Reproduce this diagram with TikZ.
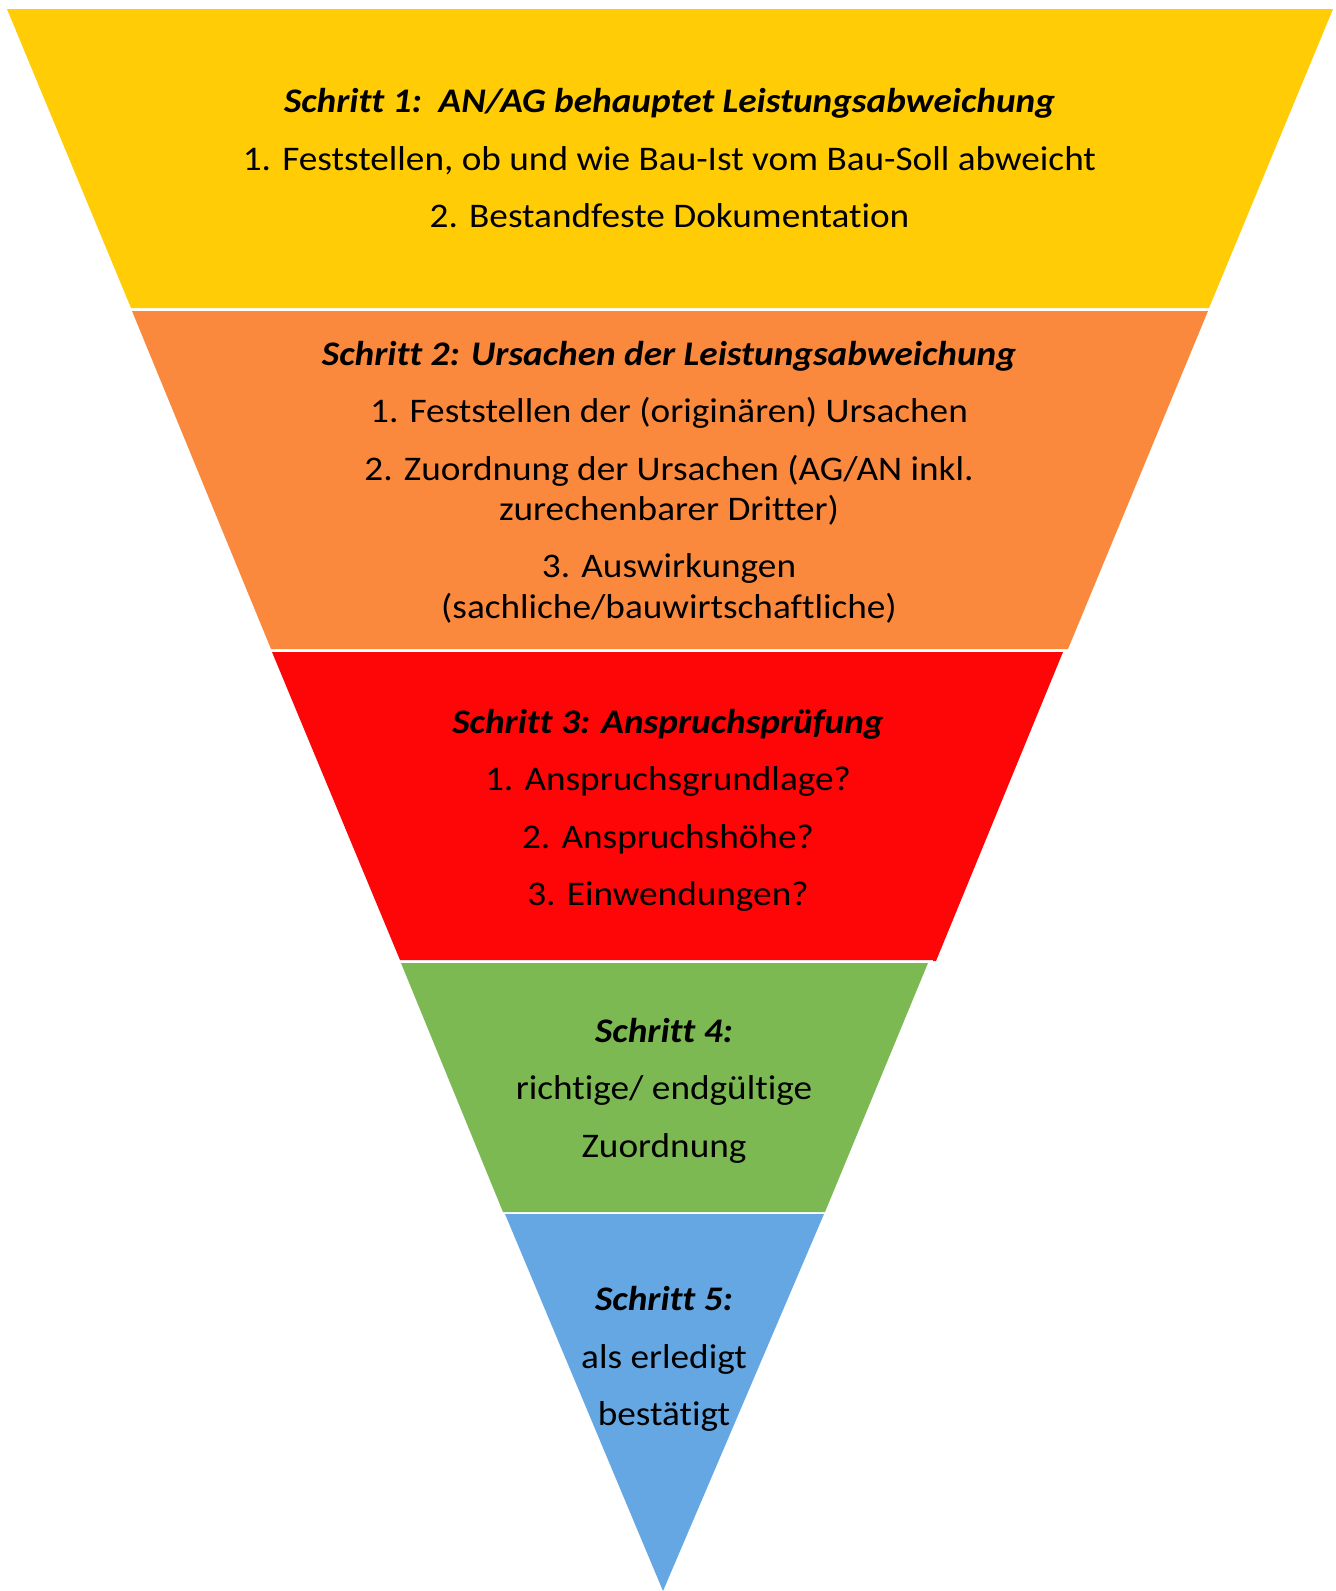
\documentclass[tikz,border=0pt]{standalone}
\usepackage{fontspec}
\setmainfont{Carlito}[FakeStretch=1.08,Ligatures={NoCommon}]
\definecolor{cyellow}{RGB}{255,204,5}
\definecolor{corange}{RGB}{251,137,61}
\definecolor{cred}{RGB}{254,5,7}
\definecolor{cgreen}{RGB}{125,185,82}
\definecolor{cblue}{RGB}{101,167,226}
\begin{document}
\begin{tikzpicture}[x=1pt,y=-1pt,
  txt/.style={anchor=base,inner sep=0pt,font=\fontsize{34.5}{40.6}\selectfont},
  ttl/.style={txt,font=\fontsize{34.5}{40.6}\selectfont\bfseries\itshape}]
\useasboundingbox (0,0) rectangle (1336,1591);
\fill[white] (0,0) rectangle (1336,1591);
% segments
\fill[cyellow] (7,9) -- (1333,9) -- (1209,308) -- (131,308) -- cycle;
\fill[corange] (132,311) -- (1208,311) -- (1068,649) -- (271,649) -- cycle;
\fill[cred] (272,652) -- (1063,652) -- (936,961) -- (933,961) -- (933,960) -- (400,960) -- cycle;
\fill[cgreen] (401,963) -- (928,963) -- (825,1212) -- (503,1212) -- cycle;
\fill[cblue] (505,1214) -- (824,1214) -- (663,1591) -- cycle;
% step 1
\node[ttl] (s1t) at (669.5,112) {Schritt 1:\ \ AN/AG behauptet Leistungsabweichung};
\node[txt] (s1a) at (669.5,170) {1. Feststellen, ob und wie Bau-Ist vom Bau-Soll abweicht};
\node[txt] (s1b) at (669.5,227) {2. Bestandfeste Dokumentation};
% step 2
\node[ttl] (s2t) at (669,365) {Schritt 2: Ursachen der Leistungsabweichung};
\node[txt] (s2a) at (669,422) {1. Feststellen der (originären) Ursachen};
\node[txt] (s2b) at (669,480) {2. Zuordnung der Ursachen (AG/AN inkl.};
\node[txt] (s2c) at (669,520) {zurechenbarer Dritter)};
\node[txt] (s2d) at (669,577) {3. Auswirkungen};
\node[txt] (s2e) at (669,618) {(sachliche/bauwirtschaftliche)};
% step 3
\node[ttl] (s3t) at (668,733) {Schritt 3: Anspruchsprüfung};
\node[txt] (s3a) at (668,790) {1. Anspruchsgrundlage?};
\node[txt] (s3b) at (668,848) {2. Anspruchshöhe?};
\node[txt] (s3c) at (668,905) {3. Einwendungen?};
% step 4
\node[ttl] (s4t) at (664,1042) {Schritt 4:};
\node[txt] (s4a) at (664,1099) {richtige/ endgültige};
\node[txt] (s4b) at (664,1157) {Zuordnung};
% step 5
\node[ttl] (s5t) at (664,1310) {Schritt 5:};
\node[txt] (s5a) at (664,1368) {als erledigt};
\node[txt] (s5b) at (664,1425) {bestätigt};
\end{tikzpicture}
\end{document}
